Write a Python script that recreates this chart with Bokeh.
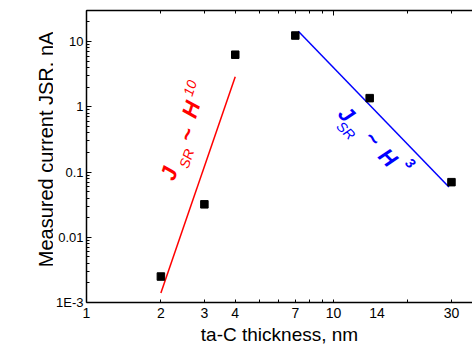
import math
from bokeh.plotting import figure
from bokeh.layouts import row
from bokeh.models import FixedTicker, LogAxis, Label, Range1d, ColumnDataSource, Title
from bokeh.embed import file_html
from bokeh.resources import INLINE

# ---------------- data ----------------
thickness_nm = [2, 3, 4, 7, 14, 30]
current_nA = [0.0025, 0.032, 6.3, 12.4, 1.36, 0.07]

fit_thin_x = [2.0, 4.0]
fit_thin_y = [0.0014, 2.9]
fit_thick_x = [7.2, 29.3]
fit_thick_y = [14.4, 0.059]

x_tick_values = [1, 2, 3, 4, 7, 10, 15, 30]
x_tick_labels = ["1", "2", "3", "4", "7", "10", "14", "30"]
x_minor_ticks = [1, 2, 3, 4, 5, 6, 7, 8, 9, 10, 20, 30]
y_tick_values = [1e-3, 1e-2, 0.1, 1, 10]
y_tick_labels = ["1E-3", "0.01", "0.1", "1", "10"]
y_minor_ticks = [m * 10.0 ** e for e in range(-3, 2) for m in range(2, 10) if m * 10.0 ** e <= 30]

# ---------------- layout ----------------
W, H = 472, 352
LW = 53                      # strip on the left that holds the y title
L, T, FW, FH = 86, 10, 386, 292
X_MIN, X_MAX = 1.0, 36.5
Y_MIN, Y_MAX = 1e-3, 30.0
FONT = "Liberation Sans"

p = figure(frame_width=FW, frame_height=FH,
           x_axis_type="log", y_axis_type="log",
           x_range=Range1d(X_MIN, X_MAX), y_range=Range1d(Y_MIN, Y_MAX),
           output_backend="svg", toolbar_location=None,
           min_border_left=L - LW, min_border_top=T, min_border_right=0,
           min_border_bottom=H - T - FH)
p.outline_line_color = None
p.xgrid.visible = False
p.ygrid.visible = False
p.background_fill_color = "white"
p.border_fill_color = "white"

xa = p.xaxis[0]
xa.ticker = FixedTicker(ticks=x_tick_values, minor_ticks=x_minor_ticks)
xa.major_label_overrides = {v: s for v, s in zip(x_tick_values, x_tick_labels)}
xa.major_tick_line_color = None
xa.major_tick_in = 0
xa.major_tick_out = 0
xa.minor_tick_in = 3
xa.minor_tick_out = 0
xa.minor_tick_line_color = "black"
xa.axis_line_color = "black"
xa.axis_line_width = 1.5
xa.major_label_text_font = FONT
xa.major_label_text_font_size = "14px"
xa.major_label_text_color = "black"
xa.major_label_standoff = 5

ya = p.yaxis[0]
ya.ticker = FixedTicker(ticks=y_tick_values, minor_ticks=y_minor_ticks)
ya.major_label_overrides = {v: s for v, s in zip(y_tick_values, y_tick_labels)}
ya.major_tick_in = 5
ya.major_tick_out = 0
ya.minor_tick_in = 3
ya.minor_tick_out = 0
ya.major_tick_line_color = "black"
ya.minor_tick_line_color = "black"
ya.axis_line_color = "black"
ya.axis_line_width = 1.5
ya.major_label_text_font = FONT
ya.major_label_text_font_size = "13px"
ya.major_label_text_color = "black"
ya.major_label_standoff = 3

top = LogAxis(ticker=FixedTicker(ticks=[1, 10], minor_ticks=x_minor_ticks))
top.major_label_overrides = {1: "", 10: ""}
top.major_label_text_font_size = "1px"
top.major_label_standoff = 0
top.major_tick_in = 5
top.major_tick_out = 0
top.minor_tick_in = 3
top.minor_tick_out = 0
top.axis_line_color = "black"
top.axis_line_width = 1.5
p.add_layout(top, "above")

# x title, shifted right of the frame centre as in the reference
p.add_layout(Title(text="ta-C thickness, nm", align="center", offset=5, standoff=3,
                   text_font=FONT, text_font_size="19px", text_font_style="normal",
                   text_color="black"), "below")

# ---------------- marks ----------------
p.line(fit_thin_x, fit_thin_y, line_color="#ff0000", line_width=1.5)
p.line(fit_thick_x, fit_thick_y, line_color="#0000ff", line_width=1.5)
src = ColumnDataSource(dict(x=thickness_nm, y=current_nA))
p.scatter("x", "y", source=src, marker="square", size=7.5, fill_color="black", line_color="black")


# ---------------- in-plot annotations ----------------
def px_to_data(px, py):
    lx = math.log10(X_MIN) + (px - L) / FW * (math.log10(X_MAX) - math.log10(X_MIN))
    ly = math.log10(Y_MIN) + (T + FH - py) / FH * (math.log10(Y_MAX) - math.log10(Y_MIN))
    return 10 ** lx, 10 ** ly


def piece(cx, cy, angle_deg, text, size, style, color):
    x, y = px_to_data(cx, cy)
    p.add_layout(Label(x=x, y=y, text=text, angle=math.radians(angle_deg), text_font=FONT,
                       text_font_size=f"{size}px", text_font_style=style, text_color=color,
                       text_align="center", text_baseline="middle"))


RED, BLUE = "#ff0000", "#0000ff"
piece(168.5, 173.0, 72, "J", 22, "bold italic", RED)
piece(186.0, 158.0, 72, "SR", 14, "italic", RED)
piece(186.5, 134.0, 72, "~", 22, "bold italic", RED)
piece(190.5, 109.0, 72, "H", 22, "bold italic", RED)
piece(189.5, 87.5, 72, "10", 14, "italic", RED)

piece(346.0, 113.5, -45, "J", 22, "bold italic", BLUE)
piece(345.5, 130.0, -45, "SR", 14, "italic", BLUE)
piece(372.0, 138.0, -45, "~", 22, "bold italic", BLUE)
piece(387.5, 157.0, -45, "H", 22, "bold italic", BLUE)
piece(410.0, 162.5, -45, "3", 14, "bold italic", BLUE)

# ---------------- left strip with the y title (x = page px, y = H - page px) ----------------
left = figure(width=LW, height=H, x_range=Range1d(0, LW), y_range=Range1d(0, H),
              output_backend="svg", toolbar_location=None, min_border=0,
              x_axis_location=None, y_axis_location=None)
left.outline_line_color = None
left.xgrid.visible = False
left.ygrid.visible = False
left.border_fill_color = "white"
left.background_fill_color = "white"

left.add_layout(Label(x=45, y=H - 167.5, text="Measured current JSR, nA", angle=math.pi / 2,
                      text_font=FONT, text_font_size="20px", text_color="black",
                      text_align="center", text_baseline="middle"))

layout = row(left, p, spacing=0)
open("out.html", "w").write(file_html(layout, INLINE))
